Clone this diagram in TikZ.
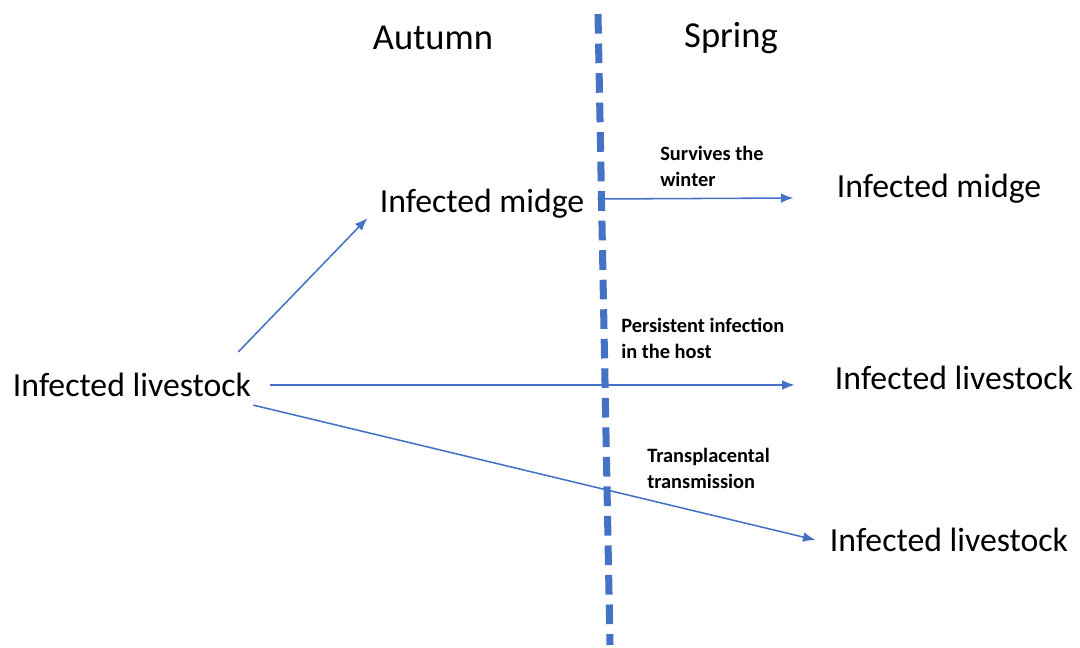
\documentclass[tikz,border=0pt]{standalone}
\usepackage{fontspec}
\setmainfont{Carlito}
\usetikzlibrary{arrows.meta, positioning}
\definecolor{officeblue}{RGB}{68, 114, 196}

\begin{document}
\begin{tikzpicture}[
        x=0.025cm, y=-0.025cm,
        season/.style={inner sep=0, font=\fontsize{26}{30}\selectfont},
        host/.style={inner sep=0, font=\fontsize{24}{28}\selectfont},
        route/.style={inner sep=0, align=left, anchor=north west,
            font=\fontsize{14.5}{18.5}\selectfont\bfseries},
        arrow/.style={-{Latex[length=9pt, width=7pt]}, line width=1.1pt, color=officeblue},
        divider/.style={line width=5pt, color=officeblue, dash pattern=on 14pt off 7pt}
        ]
        \useasboundingbox (0,0) rectangle (1080,647);

        % seasons and the divider
        \node[season] (autumn) at (433,38) {Autumn};
        \node[season] (spring) at (731,38) {Spring};
        \coordinate (top) at (598,14);
        \coordinate (bottom) at (610,645);
        \draw[divider] (top) -- (bottom);

        % hosts and vectors
        \node[host] (livL) at (132,385) {Infected livestock};
        \node[host] (midL) at (482,204) {Infected midge};
        \node[host] (midR) at (939,189) {Infected midge};
        \node[host] (livR) at (954,378) {Infected livestock};
        \node[host] (livB) at (949,540) {Infected livestock};

        % routes over the winter
        \draw[arrow] ([shift={(-13,-21)}]livL.north east) -- ([shift={(-12,14)}]midL.west);
        \draw[arrow] ([shift={(13,-5)}]midL.east) -- ([shift={(-43,9)}]midR.west);
        \draw[arrow] ([xshift=13]livL.east) -- ([shift={(-40,7)}]livR.west);
        \draw[arrow] ([shift={(2,8)}]livL.south east) -- ([xshift=-10]livB.west);

        \node[route] (survive) at (660,146) {Survives the\\winter};
        \node[route] (persist) at (621,318) {Persistent infection\\in the host};
        \node[route] (placenta) at (647,448) {Transplacental\\transmission};
    \end{tikzpicture}
\end{document}
